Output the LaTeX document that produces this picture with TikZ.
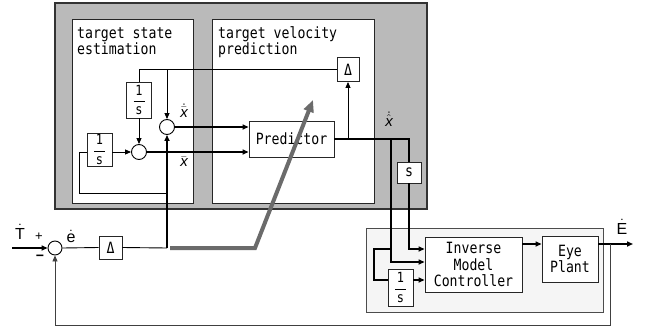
\documentclass[tikz,border=0pt]{standalone}
\usepackage{fontspec}
\usetikzlibrary{arrows.meta}
\newfontfamily\gothic[FakeStretch=0.85]{DejaVu Sans Mono}
\newfontfamily\lab{Liberation Sans}
\newcommand\onefrac{$\displaystyle\frac{\hbox to 11pt{\hfil 1\hfil}}{\hbox{s}}$}
\begin{document}
\begin{tikzpicture}[x=1pt,y=-1pt,
  txt/.style={inner sep=0pt, font=\gothic\fontsize{15.5}{17}\selectfont},
  blk/.style={draw=black!85, fill=white, line width=0.9pt, inner sep=0pt, align=center,
    font=\gothic\fontsize{15.5}{16.5}\selectfont},
  fracblk/.style={blk, font=\gothic\fontsize{14}{14}\selectfont},
  sum/.style={circle, draw=black, fill=white, line width=0.9pt, minimum size=15pt, inner sep=0pt},
  thinl/.style={line width=0.9pt},
  thickl/.style={line width=2pt},
  arr/.style={-{Triangle[length=6pt,width=5pt]}},
  lbl/.style={inner sep=0pt, font=\lab\fontsize{15}{15}\selectfont},
  biglbl/.style={inner sep=0pt, font=\lab\fontsize{16}{16}\selectfont}]
\useasboundingbox (0,0) rectangle (647,329);
\fill[white] (0,0) rectangle (647,329);
% frames
\path[draw=black!80, fill=black!27, line width=1.2pt] (55,3) rectangle (427,209);
\path[draw=black!85, fill=white, line width=1pt] (72,20) rectangle (193,203);
\path[draw=black!85, fill=white, line width=1pt] (212,20) rectangle (374,203);
\path[draw=black!70, fill=black!4, line width=1pt] (366,228) rectangle (603,312);
% titles
\node[txt, anchor=base west] (t1) at (77,38) {target state};
\node[txt, anchor=base west] (t2) at (77,55) {estimation};
\node[txt, anchor=base west] (t3) at (218,38) {target velocity};
\node[txt, anchor=base west] (t4) at (218,55) {prediction};
% blocks
\node[blk, minimum width=22pt, minimum height=24pt] (dT) at (348,69.5) {Δ};
\node[fracblk, minimum width=25pt, minimum height=36pt] (i1) at (139,100) {\onefrac};
\node[fracblk, minimum width=25pt, minimum height=33pt] (i2) at (99.5,149.5) {\onefrac};
\node[sum] (c1) at (167,127) {};
\node[sum] (c2) at (139,152) {};
\node[blk, minimum width=85pt, minimum height=36pt] (pred) at (291.5,139) {Predictor};
\node[blk, minimum width=24pt, minimum height=21pt] (sB) at (409,172.5) {s};
\node[blk, minimum width=97pt, minimum height=55pt] (imc) at (473.5,264.5) {Inverse\\Model\\Controller};
\node[blk, minimum width=56pt, minimum height=46pt] (eye) at (570,259) {Eye\\Plant};
\node[fracblk, minimum width=25pt, minimum height=37pt] (i3) at (400.5,287.5) {\onefrac};
\node[sum, minimum size=14pt] (c0) at (55,248) {};
\node[blk, minimum width=23pt, minimum height=23pt] (dB) at (110.5,247.5) {Δ};
% coordinates
\coordinate (j0) at (167,248);
\coordinate (j1) at (167,193);
\coordinate (lp) at (79,193);
\coordinate (b1) at (391,139);
\coordinate (b2) at (391,249);
\coordinate (b3) at (391,262);
\coordinate (lq) at (374,249);
\coordinate (b4) at (374,280);
\coordinate (b5) at (530,244);
\coordinate (fb) at (610,244);
\coordinate (fbd) at (610,325);
\coordinate (out) at (633,244);
\coordinate (in) at (12,248);
\coordinate (g0) at (170,248);
\coordinate (g1) at (255,248);
\coordinate (g2) at (313,100);
% estimation part
\draw[thinl] (dT.west) -| (i1.north);
\draw[thinl, arr] (c1 |- dT.west) -- (c1.north);
\draw[thinl, arr] (i1.south) -- (c2.north);
\draw[thinl, arr] (i2.east |- c2) -- (c2.west);
\draw[thinl] (j1) -- (lp) |- (i2.west |- c2);
\draw[thickl, arr] (j0) -- (c1.south);
\draw[thickl, arr] (c2.east) -- (pred.west |- c2);
\draw[thickl, arr] (c1.east) -- (pred.west |- c1);
% prediction output
\draw[thickl] (pred.east) -| (sB.north);
\draw[thinl, arr] (pred.east -| dT) -- (dT.south);
\draw[thickl, arr] (b1) -- (b3) -- (imc.west |- b3);
\draw[thickl, arr] (sB.south) |- (imc.west |- b2);
\draw[thickl] (b2) -- (lq) -- (b4) -- (i3.west |- b4);
\draw[thickl, arr] (i3.east |- b4) -- (imc.west |- b4);
\draw[thickl, arr] (imc.east |- b5) -- (eye.west |- b5);
\draw[thickl, arr] (eye.east |- b5) -- (out);
\draw[thinl, draw=black!75, arr] (fb) -- (fbd) -| (c0.south);
% input
\draw[thickl, arr] (in) -- (c0.west);
\draw[thinl] (c0.east) -- (dB.west);
\draw[thinl] (dB.east) -- (j0);
% labels
\node[lbl] (lx1) at (184,111) {$\dot{\bar{\mbox{\itshape x}}}$};
\node[lbl] (lx2) at (184,162) {$\bar{\mbox{\itshape x}}$};
\node[lbl] (lx3) at (389,119) {$\dot{\hat{\mbox{\itshape x}}}$};
\node[biglbl] (lT) at (20,232) {$\dot{\mbox{T}}$};
\node[lbl, font=\lab\fontsize{13}{13}\selectfont] (lp1) at (39,237) {+};
\node[lbl, font=\lab\bfseries\fontsize{14}{14}\selectfont] (lm1) at (40,258) {−};
\node[biglbl] (le) at (71,236) {$\dot{\mbox{e}}$};
\node[biglbl] (lE) at (622,227) {$\dot{\mbox{E}}$};
% gray arrow
\draw[line width=4pt, draw=black!58, -{Triangle[length=12pt,width=10pt]}] (g0) -- (g1) -- (g2);
\end{tikzpicture}
\end{document}
